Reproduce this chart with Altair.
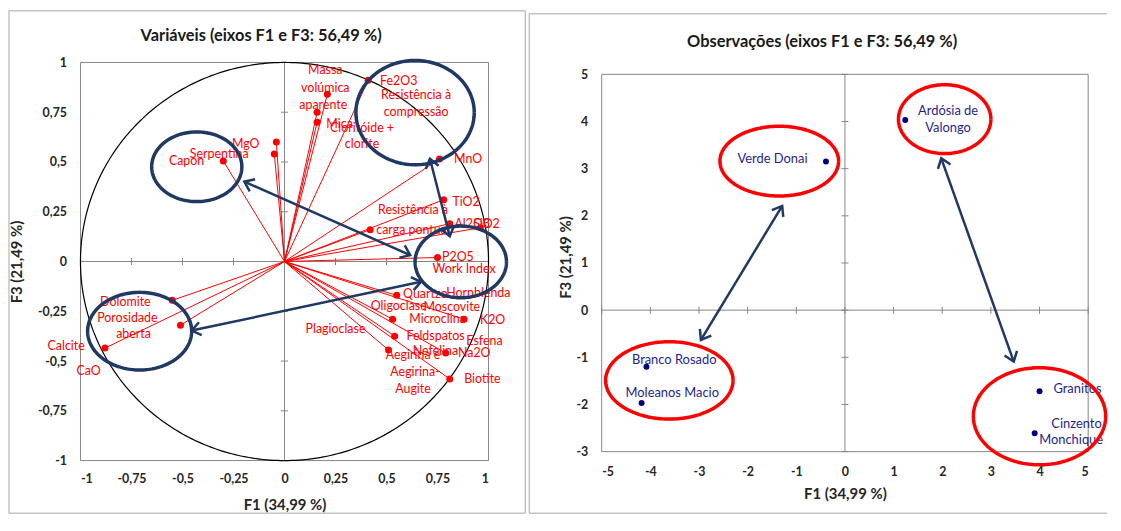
import altair as alt
import numpy as np
import pandas as pd

# ---------------- Left panel: variables (correlation circle) ----------------
var_names = ["Fe2O3", "Massa volúmica aparente", "Mica", "Cloritóide + clorite", "MnO", "TiO2",
             "Al2O3", "SiO2", "Resistência à carga pontual", "P2O5", "Quartzo", "Microclina", "K2O",
             "Feldspatos", "Nefelina", "Aegirina e Aegirina-Augite", "Biotite", "Dolomite",
             "Porosidade aberta", "Calcite", "Capon", "MgO", "Serpentina"]
var_f1 = [0.41, 0.21, 0.16, 0.16, 0.76, 0.78, 0.81, 0.96, 0.42, 0.75, 0.55, 0.53, 0.88,
          0.54, 0.79, 0.51, 0.81, -0.55, -0.51, -0.88, -0.30, -0.04, -0.05]
var_f3 = [0.91, 0.84, 0.75, 0.70, 0.515, 0.31, 0.19, 0.17, 0.16, 0.02, -0.17, -0.29, -0.29,
          -0.375, -0.46, -0.445, -0.59, -0.195, -0.32, -0.435, 0.505, 0.60, 0.54]

# label lines (centre positions in axis units)
vlab_text = ["Massa", "volúmica", "aparente", "Fe2O3", "Resistência à", "compressão", "Mica",
             "Cloritóide +", "clorite", "MnO", "TiO2", "Al2O3", "SiO2", "Resistência à",
             "carga pontual", "P2O5", "Work Index", "Quartzo", "Hornblenda", "Oligoclase",
             "Moscovite", "Microclina", "K2O", "Plagioclase", "Feldspatos", "Esfena", "Nefelina",
             "Na2O", "Aegirina e", "Aegirina-", "Augite", "Biotite", "Dolomite", "Porosidade",
             "aberta", "Calcite", "CaO", "Capon", "Serpentina", "MgO"]
vlab_f1 = [0.20, 0.20, 0.19, 0.56, 0.645, 0.645, 0.27, 0.38, 0.38, 0.90, 0.89, 0.92, 0.99, 0.63,
           0.63, 0.85, 0.88, 0.69, 0.95, 0.56, 0.82, 0.75, 1.02, 0.25, 0.74, 0.98, 0.74, 0.93,
           0.63, 0.64, 0.63, 0.97, -0.78, -0.77, -0.74, -1.07, -0.96, -0.48, -0.32, -0.19]
vlab_f3 = [0.96, 0.87, 0.785, 0.905, 0.835, 0.75, 0.69, 0.67, 0.59, 0.515, 0.30, 0.19, 0.19, 0.26,
           0.16, 0.02, -0.04, -0.165, -0.16, -0.225, -0.23, -0.29, -0.295, -0.34, -0.375, -0.40,
           -0.45, -0.46, -0.47, -0.555, -0.64, -0.59, -0.205, -0.285, -0.365, -0.425, -0.55,
           0.505, 0.54, 0.59]

left_ticks = [-1, -0.75, -0.5, -0.25, 0, 0.25, 0.5, 0.75, 1]

# navy annotation ellipses (centre / radii, axis units)
lell_cx = [-0.43, 0.64, 0.864, -0.71]
lell_cy = [0.476, 0.748, -0.002, -0.35]
lell_rx = [0.221, 0.29, 0.224, 0.255]
lell_ry = [0.175, 0.262, 0.18, 0.195]

# navy double arrows
larr_x1 = [-0.197, 0.713, -0.455]
larr_y1 = [0.401, 0.516, -0.347]
larr_x2 = [0.616, 0.81, 0.669]
larr_y2 = [0.032, 0.127, -0.102]

# ---------------- Right panel: observations ----------------
obs_names = ["Verde Donai", "Ardósia de Valongo", "Branco Rosado", "Moleanos Macio",
             "Granitos", "Cinzento Monchique"]
obs_f1 = [-0.39, 1.24, -4.08, -4.18, 4.0, 3.9]
obs_f3 = [3.15, 4.03, -1.20, -1.97, -1.72, -2.61]

olab_text = ["Verde Donai", "Ardósia de", "Valongo", "Branco Rosado", "Moleanos Macio",
             "Granitos", "Cinzento", "Monchique"]
olab_f1 = [-1.49, 2.12, 2.12, -3.51, -3.55, 4.78, 4.76, 4.65]
olab_f3 = [3.2, 4.23, 3.87, -1.05, -1.75, -1.68, -2.42, -2.76]

right_xticks = [-5, -4, -3, -2, -1, 0, 1, 2, 3, 4, 5]
right_yticks = [-3, -2, -1, 0, 1, 2, 3, 4, 5]

rell_cx = [-1.35, 2.05, -3.61, 4.0]
rell_cy = [3.16, 4.05, -1.49, -2.25]
rell_rx = [1.22, 0.95, 1.31, 1.36]
rell_ry = [0.74, 0.73, 0.82, 1.03]

rarr_x1 = [-1.29, 1.98]
rarr_y1 = [2.21, 3.22]
rarr_x2 = [-2.96, 3.47]
rarr_y2 = [-0.63, -1.09]

# ---------------- helpers ----------------
FONT = "Lato"
NAVY = "#1f3864"
RED = "#ff0000"
GRAY = "#868686"
BORDER = "#a6a6a6"
LEFT_W, LEFT_H = 411, 401
RIGHT_W, RIGHT_H = 490, 380
RIGHT_SHIFT = 12  # the right plot frame starts 12px lower than the left one
RIGHT_YTOP = 5 + RIGHT_SHIFT * 8 / RIGHT_H
LABEL_SIZE = 12.5
label_expr = "replace(replace(format(datum.value, '~g'), '.', ','), '\u2212', '-')"


def ellipse_df(cx, cy, rx, ry):
    t = np.linspace(0, 2 * np.pi, 181)
    parts = []
    for i in range(len(cx)):
        parts.append(pd.DataFrame({"id": i, "k": np.arange(len(t)),
                                   "x": cx[i] + rx[i] * np.cos(t),
                                   "y": cy[i] + ry[i] * np.sin(t)}))
    return pd.concat(parts, ignore_index=True)


def head_df(x1, y1, x2, y2, sx, sy):
    rows = []
    for a, b, c, d in zip(x1, y1, x2, y2):
        for tx, ty, fx, fy in [(c, d, a, b), (a, b, c, d)]:
            ang = float(np.degrees(np.arctan2(-(ty - fy) * sy, (tx - fx) * sx)) % 360)
            rows.append({"x": tx, "y": ty, "ang": ang})
    return pd.DataFrame(rows)


def border_rule(x, x2, y, y2):
    return alt.Chart(pd.DataFrame({"a": [0]})).mark_rule(color=BORDER, strokeWidth=1).encode(
        x=alt.value(x), x2=alt.value(x2), y=alt.value(y), y2=alt.value(y2))


class Panel:
    def __init__(self, xdom, ydom, vis_ydom, xticks, yticks, w, h, xtitle_y, ytitle_x, xpad):
        self.xs = alt.Scale(domain=xdom, nice=False, zero=False)
        self.ys = alt.Scale(domain=ydom, nice=False, zero=False)
        self.xax = alt.Axis(values=xticks, labelExpr=label_expr, title="F1 (34,99 %)", grid=False,
                            ticks=False, domain=False, labelPadding=xpad, zindex=2,
                            titleX=w / 2, titleY=xtitle_y, titleBaseline="middle",
                            titleAlign="center")
        self.yax = alt.Axis(values=yticks, labelExpr=label_expr, title="F3 (21,49 %)", grid=False,
                            ticks=False, domain=False, labelPadding=14, zindex=2,
                            titleX=ytitle_x, titleY=h / 2, titleAngle=270,
                            titleBaseline="middle", titleAlign="center")
        self.xdom, self.vis_ydom = xdom, vis_ydom
        self.xticks, self.yticks = xticks, yticks

    def enc(self, xf, yf, **kw):
        return dict(x=alt.X(xf, scale=self.xs, axis=self.xax),
                    y=alt.Y(yf, scale=self.ys, axis=self.yax), **kw)

    def base(self, frame, title, title_pos, title_size, right_edge=True):
        xd, yd = self.xdom, self.vis_ydom
        x0, x1, y0, y1 = frame
        layers = [border_rule(x0, x1, y0, y0), border_rule(x0, x1, y1, y1),
                  border_rule(x0, x0, y0, y1)]
        if right_edge:
            layers.append(border_rule(x1, x1, y0, y1))
        # panel title
        layers.append(alt.Chart(pd.DataFrame({"t": [title]})).mark_text(
            font=FONT, fontSize=title_size, fontWeight="bold", color="#1a1a1a",
            align="center", baseline="middle").encode(
            x=alt.value(title_pos[0]), y=alt.value(title_pos[1]), text="t:N"))
        # plot frame
        pf = pd.DataFrame({"x": [xd[0]], "x2": [xd[1]], "y": [yd[0]], "y2": [yd[1]]})
        layers.append(alt.Chart(pf).mark_rect(fill="white", fillOpacity=0, stroke=GRAY,
                                              strokeWidth=1).encode(
            **self.enc("x:Q", "y:Q", x2="x2:Q", y2="y2:Q")))
        # zero axes lines
        zl = pd.DataFrame({"x": [xd[0], 0], "x2": [xd[1], 0], "y": [0, yd[0]], "y2": [0, yd[1]]})
        layers.append(alt.Chart(zl).mark_rule(color=GRAY, strokeWidth=1).encode(
            **self.enc("x:Q", "y:Q", x2="x2:Q", y2="y2:Q")))
        xt = pd.DataFrame({"x": self.xticks, "y": 0})
        yt = pd.DataFrame({"x": 0, "y": self.yticks})
        layers.append(alt.Chart(xt).mark_tick(orient="vertical", size=7, thickness=1, color=GRAY,
                                              opacity=1).encode(**self.enc("x:Q", "y:Q")))
        layers.append(alt.Chart(yt).mark_tick(orient="horizontal", size=7, thickness=1,
                                              color=GRAY, opacity=1).encode(**self.enc("x:Q", "y:Q")))
        return layers


# ---------------- left chart ----------------
L = Panel([-1, 1], [-1, 1], [-1, 1], left_ticks, left_ticks, LEFT_W, LEFT_H, 44, -64, 12)
left_layers = L.base((-72, 448, -52, 454), "Variáveis (eixos F1 e F3: 56,49 %)", (182, -27), 16.5)

tc = np.linspace(0, 2 * np.pi, 361)
circle = pd.DataFrame({"k": np.arange(len(tc)), "x": np.cos(tc), "y": np.sin(tc)})
left_layers.append(alt.Chart(circle).mark_line(color="black", strokeWidth=1.2).encode(
    **L.enc("x:Q", "y:Q", order="k:Q")))

vars_df = pd.DataFrame({"name": var_names, "x": var_f1, "y": var_f3, "x0": 0.0, "y0": 0.0})
left_layers.append(alt.Chart(vars_df).mark_rule(color=RED, strokeWidth=1).encode(
    **L.enc("x0:Q", "y0:Q", x2="x:Q", y2="y:Q")))
left_layers.append(alt.Chart(vars_df).mark_circle(color=RED, size=50, opacity=1).encode(
    **L.enc("x:Q", "y:Q", tooltip="name:N")))
vlab_df = pd.DataFrame({"t": vlab_text, "x": vlab_f1, "y": vlab_f3})
left_layers.append(alt.Chart(vlab_df).mark_text(color=RED, font=FONT, fontSize=LABEL_SIZE,
                                                align="center", baseline="middle").encode(
    **L.enc("x:Q", "y:Q", text="t:N")))

lell = ellipse_df(lell_cx, lell_cy, lell_rx, lell_ry)
left_layers.append(alt.Chart(lell).mark_line(color=NAVY, strokeWidth=3.5).encode(
    **L.enc("x:Q", "y:Q", detail="id:N", order="k:Q")))
larr = pd.DataFrame({"x1": larr_x1, "y1": larr_y1, "x2": larr_x2, "y2": larr_y2})
left_layers.append(alt.Chart(larr).mark_rule(color=NAVY, strokeWidth=2.5).encode(
    **L.enc("x1:Q", "y1:Q", x2="x2:Q", y2="y2:Q")))
lhead = head_df(larr_x1, larr_y1, larr_x2, larr_y2, LEFT_W / 2, LEFT_H / 2)
left_layers.append(alt.Chart(lhead).mark_point(
    shape="M -1 -0.75 L 0 0 L -1 0.75", filled=False, stroke=NAVY, strokeWidth=2.5,
    size=320, opacity=1).encode(**L.enc("x:Q", "y:Q", angle=alt.Angle("ang:Q", scale=None))))

left = alt.layer(*left_layers).properties(width=LEFT_W, height=LEFT_H)

# ---------------- right chart ----------------
RH = RIGHT_H + RIGHT_SHIFT
R = Panel([-5, 5], [-3, RIGHT_YTOP], [-3, 5], right_xticks, right_yticks, RIGHT_W, RH, 42, -36, 14)
right_layers = R.base((-73, 509, -49, 454), "Observações (eixos F1 e F3: 56,49 %)", (222, -21),
                      16.5, right_edge=False)

obs_df = pd.DataFrame({"name": obs_names, "x": obs_f1, "y": obs_f3})
right_layers.append(alt.Chart(obs_df).mark_circle(color="#000080", size=36, opacity=1).encode(
    **R.enc("x:Q", "y:Q", tooltip="name:N")))
olab_df = pd.DataFrame({"t": olab_text, "x": olab_f1, "y": olab_f3})
right_layers.append(alt.Chart(olab_df).mark_text(color="#1f1f8c", font=FONT, fontSize=13,
                                                 align="center", baseline="middle").encode(
    **R.enc("x:Q", "y:Q", text="t:N")))
rell = ellipse_df(rell_cx, rell_cy, rell_rx, rell_ry)
right_layers.append(alt.Chart(rell).mark_line(color=RED, strokeWidth=3.5).encode(
    **R.enc("x:Q", "y:Q", detail="id:N", order="k:Q")))
rarr = pd.DataFrame({"x1": rarr_x1, "y1": rarr_y1, "x2": rarr_x2, "y2": rarr_y2})
right_layers.append(alt.Chart(rarr).mark_rule(color=NAVY, strokeWidth=2.5).encode(
    **R.enc("x1:Q", "y1:Q", x2="x2:Q", y2="y2:Q")))
rhead = head_df(rarr_x1, rarr_y1, rarr_x2, rarr_y2, RIGHT_W / 10, RIGHT_H / 8)
right_layers.append(alt.Chart(rhead).mark_point(
    shape="M -1 -0.75 L 0 0 L -1 0.75", filled=False, stroke=NAVY, strokeWidth=2.5,
    size=320, opacity=1).encode(**R.enc("x:Q", "y:Q", angle=alt.Angle("ang:Q", scale=None))))

right = alt.layer(*right_layers).properties(width=RIGHT_W, height=RH)

chart = alt.hconcat(left, right, spacing=2).properties(padding=0).configure_view(
    stroke=None).configure_axis(
    labelFont=FONT, labelFontSize=12.5, labelFontWeight="bold", labelColor="#262626",
    titleFont=FONT, titleFontSize=15, titleFontWeight="bold", titleColor="#262626")

chart.save("out.html", embed_options={"renderer": "svg", "actions": False})
